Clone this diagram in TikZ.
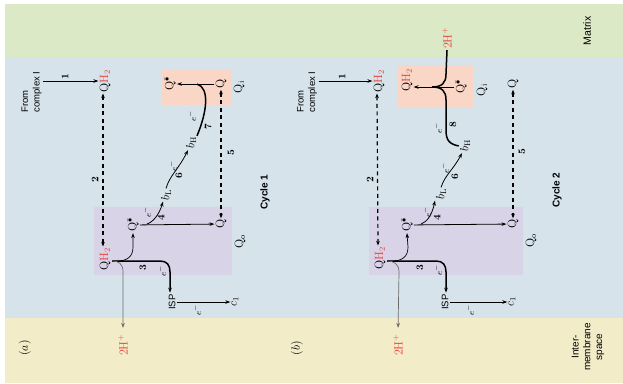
\documentclass[tikz,border=0pt]{standalone}
\usepackage{fontspec}
\setsansfont{Liberation Sans}
\usetikzlibrary{arrows.meta}
\definecolor{matrixg}{HTML}{DCE9C6}
\definecolor{membb}{HTML}{D6E3EA}
\definecolor{imsy}{HTML}{F3ECC8}
\definecolor{qopurp}{HTML}{D9D3E8}
\definecolor{qisalm}{HTML}{F9D6C6}
\definecolor{qred}{HTML}{E5403A}
\newcommand{\qsemi}{$\mathrm{Q}^{\bar{\bullet}}$}
\newcommand{\qhtwo}{Q\textcolor{qred}{H$_2$}}
\begin{document}
\begin{tikzpicture}[x=1pt,y=-1pt,
  rt/.style={rotate=90, inner sep=1.5pt},
  chem/.style={rt, inner sep=1pt, font=\fontsize{12}{14}\selectfont},
  sfl/.style={rt, font=\sffamily\fontsize{9.5}{11.5}\selectfont, align=left},
  cyc/.style={rt, font=\sffamily\bfseries\fontsize{10}{12}\selectfont},
  num/.style={rt, inner sep=0.5pt, font=\bfseries\fontsize{10}{11}\selectfont},
  elec/.style={rt, inner sep=0.5pt, font=\fontsize{9.5}{10}\selectfont},
  arr/.style={-{Stealth[length=5pt,width=3.6pt]}, line width=0.8pt},
  tarr/.style={arr, line width=1.5pt},
  tline/.style={line width=1.5pt},
  garr/.style={arr, draw=gray!85!black, line width=0.7pt},
  dsh/.style={dash pattern=on 4pt off 3.5pt, line width=1.2pt,
    {Stealth[length=4.5pt,width=3.6pt]}-{Stealth[length=4.5pt,width=3.6pt]}}]
\useasboundingbox (0,0) rectangle (623,383);
% bands
\fill[matrixg] (5,4) rectangle (623,57);
\fill[membb] (5,57) rectangle (623,318);
\fill[imsy] (5,318) rectangle (623,383);
% site boxes
\fill[qisalm] (162,70) rectangle (232,105);
\fill[qopurp] (94,207) rectangle (232,275);
\fill[qisalm] (397,65) rectangle (473,108);
\fill[qopurp] (369,207) rectangle (523,275);

% ================= panel (a) =================
\node[sfl] (fromA) at (31.5,92) {From\\complex I};
\node[chem] (qhtA) at (105,81) {\qhtwo};
\node[chem] (qsIA) at (170,84) {\qsemi};
\node[chem] (qIA) at (221,84) {Q};
\node[chem] (QiA) at (239,87) {Q$_\mathrm{i}$};
\node[chem] (bHA) at (191,143) {$b_\mathrm{H}$};
\node[chem] (bLA) at (166,195) {$b_\mathrm{L}$};
\node[chem] (qhoA) at (105,259) {\qhtwo};
\node[chem] (qsoA) at (133,225) {\qsemi};
\node[chem] (qoA) at (221,224) {Q};
\node[chem] (QoA) at (240,242) {Q$_\mathrm{o}$};
\node[sfl] (ispA) at (172,302) {ISP};
\node[chem] (c1A) at (235,302) {$c_1$};
\node[chem, text=qred] (hA) at (123,345) {2H$^+$};
\node[cyc] (cyc1) at (265,192) {Cycle 1};
\node[chem] (labA) at (25,348) {($a$)};
\coordinate (jA) at (112,261);
\coordinate (j7) at (197,84);
\coordinate (j4) at (147,224);

\draw[arr] (fromA.south |- qhtA) -- (qhtA);
\draw[dsh] ([xshift=-2pt]qhtA.west) -- ([xshift=-2pt]qhoA.east);
\draw[arr] (qIA) -- (qsIA);
\draw[tline] ([xshift=6pt]bHA.east) .. controls (207,112) and (210,88) .. (j7);
\draw[dsh] (qIA.west) -- (qoA.east);
\draw[arr] (bLA.east) .. controls (170,175) and (178,170) .. ([xshift=-3pt]bHA.west);
\draw[arr] (qsoA) -- (qoA);
\draw[arr] (j4) .. controls (153,222) and (159,215) .. ([xshift=-3pt]bLA.west);
\draw[tarr] (jA) -- (160,261) .. controls (167,261) and (170,265) .. (170,272) -- ([xshift=-2pt]ispA.east);
\draw[arr, line width=0.7pt] (jA) -- (117,261) .. controls (128,261) and (133,256) .. (133,247) -- (qsoA.west);
\draw[garr, shorten >=5pt] (jA) .. controls (119,261) and (123,264) .. (123,272) -- (hA.east);
\draw[arr] (ispA) -- (c1A);

\node[num] (n1A) at (65,77) {1};
\node[num] (n2A) at (95,180) {2};
\node[num] (n3A) at (143,268) {3};
\node[num] (n4A) at (161,218) {4};
\node[num] (n5A) at (231,153) {5};
\node[num] (n6A) at (179,176) {6};
\node[num] (n7A) at (208,127) {7};
\node[elec] (eA7) at (192,116) {$e^-$};
\node[elec] (eA6) at (173,166) {$e^-$};
\node[elec] (eA4) at (147,212) {$e^-$};
\node[elec] (eA3) at (162,271) {$e^-$};
\node[elec] (eAi) at (197,310) {$e^-$};

% ================= panel (b) =================
\node[sfl] (fromB) at (307,92) {From\\complex I};
\node[chem] (qhtB) at (379,81) {\qhtwo};
\node[chem, text=qred] (hB1) at (447,38) {2H$^+$};
\node[chem] (qhIB) at (407,80) {\qhtwo};
\node[chem] (qsIB) at (461,87) {\qsemi};
\node[chem] (QiB) at (482,90) {Q$_\mathrm{i}$};
\node[chem] (qIB) at (513,84) {Q};
\node[chem] (bHB) at (465,146) {$b_\mathrm{H}$};
\node[chem] (bLB) at (441,194) {$b_\mathrm{L}$};
\node[chem] (qhoB) at (380,258) {\qhtwo};
\node[chem] (qsoB) at (407,225) {\qsemi};
\node[chem] (qoB) at (513,224) {Q};
\node[chem] (QoB) at (531,241) {Q$_\mathrm{o}$};
\node[sfl] (ispB) at (445,302) {ISP};
\node[chem] (c1B) at (512,302) {$c_1$};
\node[chem, text=qred] (hB) at (398,345) {2H$^+$};
\node[cyc] (cyc2) at (557,190) {Cycle 2};
\node[chem] (labB) at (297,348) {($b$)};
\node[rt, font=\sffamily\fontsize{10.5}{12}\selectfont] (mat) at (587,31) {Matrix};
\node[rt, align=center, font=\sffamily\fontsize{10}{11.8}\selectfont] (ims) at (588,347) {Inter-\\membrane\\space};
\coordinate (jB) at (387,261);
\coordinate (jB1) at (432,87);
\coordinate (j4B) at (421,224);

\draw[arr] (fromB.south |- qhtB) -- (qhtB);
\draw[dsh] ([xshift=-2pt]qhtB.west) -- ([xshift=-2pt]qhoB.east);
\draw[arr, line width=1pt] (qsIB) -- (qhIB.south |- qsIB);
\draw[tline] (hB1.west) -- (446,74) .. controls (446,83) and (442,87) .. (jB1);
\draw[tline] (bHB.north) .. controls (449,144) and (446,140) .. (446,130) -- (446,100) .. controls (446,91) and (442,87) .. (jB1);
\draw[dsh] (qIB.west) -- (qoB.east);
\draw[arr] (bLB.east) .. controls (445,175) and (453,170) .. ([xshift=-3pt]bHB.west);
\draw[arr] (qsoB) -- (qoB);
\draw[arr] (j4B) .. controls (427,222) and (432,215) .. ([xshift=-6pt]bLB.west);
\draw[tarr] (jB) -- (436,261) .. controls (443,261) and (446,265) .. (446,272) -- ([xshift=1pt]ispB.east);
\draw[arr, line width=0.7pt] (jB) -- (392,261) .. controls (403,261) and (408,256) .. (408,247) -- (qsoB.west);
\draw[garr, shorten >=5pt] (jB) .. controls (394,261) and (399,264) .. (399,272) -- (hB.east);
\draw[arr] (ispB) -- (c1B);

\node[num] (n1B) at (342,77) {1};
\node[num] (n2B) at (370,180) {2};
\node[num] (n3B) at (420,268) {3};
\node[num] (n4B) at (437,218) {4};
\node[num] (n5B) at (522,152) {5};
\node[num] (n6B) at (455,177) {6};
\node[num] (n8B) at (453,125) {8};
\node[elec] (eB8) at (438,128) {$e^-$};
\node[elec] (eB6) at (445,168) {$e^-$};
\node[elec] (eB4) at (427,212) {$e^-$};
\node[elec] (eB3) at (438,270) {$e^-$};
\node[elec] (eBi) at (470,310) {$e^-$};
\end{tikzpicture}
\end{document}
